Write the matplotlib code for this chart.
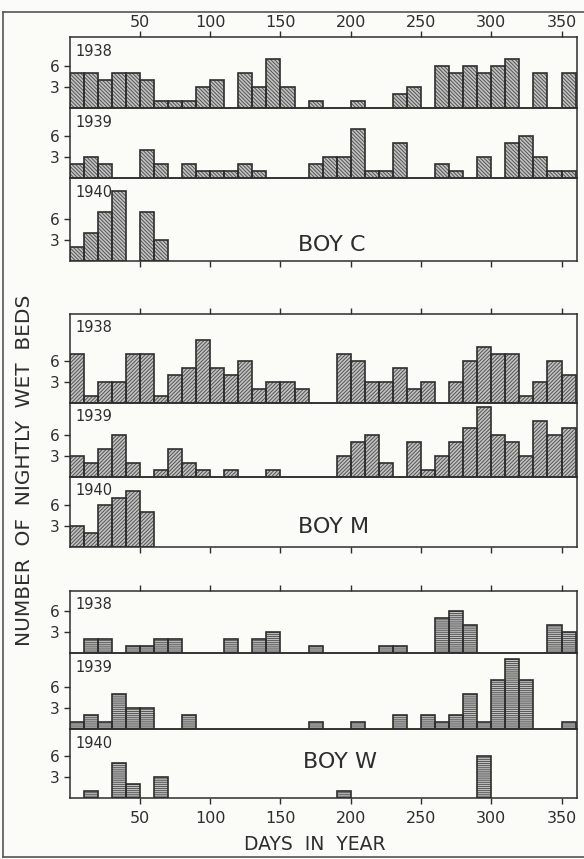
import numpy as np
import matplotlib
matplotlib.use("Agg")
import matplotlib.pyplot as plt
from matplotlib.lines import Line2D

# ten-day periods of the year (start day of each)
bin_start = np.arange(0, 360, 10)
years = ["1938", "1939", "1940"]
xticks = [50, 100, 150, 200, 250, 300, 350]
yticks = [3, 6]

# number of wet beds in each ten-day period
boy_c_1938 = [5, 5, 4, 5, 5, 4, 1, 1, 1, 3, 4, 0, 5, 3, 7, 3, 0, 1,
              0, 0, 1, 0, 0, 2, 3, 0, 6, 5, 6, 5, 6, 7, 0, 5, 0, 5]
boy_c_1939 = [2, 3, 2, 0, 0, 4, 2, 0, 2, 1, 1, 1, 2, 1, 0, 0, 0, 2,
              3, 3, 7, 1, 1, 5, 0, 0, 2, 1, 0, 3, 0, 5, 6, 3, 1, 1]
boy_c_1940 = [2, 4, 7, 10, 0, 7, 3, 0, 0, 0, 0, 0, 0, 0, 0, 0, 0, 0,
              0, 0, 0, 0, 0, 0, 0, 0, 0, 0, 0, 0, 0, 0, 0, 0, 0, 0]

boy_m_1938 = [7, 1, 3, 3, 7, 7, 1, 4, 5, 9, 5, 4, 6, 2, 3, 3, 2, 0,
              0, 7, 6, 3, 3, 5, 2, 3, 0, 3, 6, 8, 7, 7, 1, 3, 6, 4]
boy_m_1939 = [3, 2, 4, 6, 2, 0, 1, 4, 2, 1, 0, 1, 0, 0, 1, 0, 0, 0,
              0, 3, 5, 6, 2, 0, 5, 1, 3, 5, 7, 10, 6, 5, 3, 8, 6, 7]
boy_m_1940 = [3, 2, 6, 7, 8, 5, 0, 0, 0, 0, 0, 0, 0, 0, 0, 0, 0, 0,
              0, 0, 0, 0, 0, 0, 0, 0, 0, 0, 0, 0, 0, 0, 0, 0, 0, 0]

boy_w_1938 = [0, 2, 2, 0, 1, 1, 2, 2, 0, 0, 0, 2, 0, 2, 3, 0, 0, 1,
              0, 0, 0, 0, 1, 1, 0, 0, 5, 6, 4, 0, 0, 0, 0, 0, 4, 3]
boy_w_1939 = [1, 2, 1, 5, 3, 3, 0, 0, 2, 0, 0, 0, 0, 0, 0, 0, 0, 1,
              0, 0, 1, 0, 0, 2, 0, 2, 1, 2, 5, 1, 7, 10, 7, 0, 0, 1]
boy_w_1940 = [0, 1, 0, 5, 2, 0, 3, 0, 0, 0, 0, 0, 0, 0, 0, 0, 0, 0,
              0, 1, 0, 0, 0, 0, 0, 0, 0, 0, 0, 6, 0, 0, 0, 0, 0, 0]

W, H = 584, 859
PX_PER_UNIT = 7.0
ink = "#2e2e2e"
paper = "#fbfbf8"

plt.rcParams["hatch.linewidth"] = 0.7
plt.rcParams["font.family"] = ["DejaVu Sans"]

fig = plt.figure(figsize=(W / 100, H / 100), dpi=100)
fig.patch.set_facecolor(paper)

# name, rows, hatch, row edges in pixels (top, bottom), name position
panels = [
    ("BOY C", [boy_c_1938, boy_c_1939, boy_c_1940], "\\" * 9,
     [(37.3, 108.3), (108.3, 178.3), (178.3, 260.7)], (332, 245)),
    ("BOY M", [boy_m_1938, boy_m_1939, boy_m_1940], "/" * 9,
     [(314, 402.7), (402.7, 476.7), (476.7, 546.7)], (334, 527)),
    ("BOY W", [boy_w_1938, boy_w_1939, boy_w_1940], "-" * 8,
     [(590.7, 653), (653, 729), (729, 798.3)], (340, 762)),
]

left, right = 69.7, 577.0

for p, (name, rows, hatch, edges, name_pos) in enumerate(panels):
    for r, (vals, year, (top, bottom)) in enumerate(zip(rows, years, edges)):
        ax = fig.add_axes([left / W, 1 - bottom / H, (right - left) / W, (bottom - top) / H])
        ax.set_facecolor("none")
        vals = np.array(vals)
        keep = vals > 0
        ax.bar(bin_start[keep], vals[keep], width=10, align="edge",
               color="#c2c2c2", hatch=hatch, edgecolor="#555555", linewidth=0)
        ax.bar(bin_start[keep], vals[keep], width=10, align="edge",
               fill=False, edgecolor=ink, linewidth=1.2)
        ax.set_xlim(0, 361)
        ax.set_ylim(0, (bottom - top) / PX_PER_UNIT)
        for s in ax.spines.values():
            s.set_color(ink)
            s.set_linewidth(1.1)
        ax.set_yticks(yticks)
        ax.set_yticklabels([str(t) for t in yticks])
        ax.tick_params(axis="y", direction="out", length=4, width=1, color=ink,
                       labelsize=11, labelcolor=ink, pad=3)
        ax.set_xticks(xticks)
        if r == 0:
            ax.tick_params(axis="x", which="both", bottom=False, top=True,
                           labelbottom=False, labeltop=(p == 0), direction="out",
                           length=4, width=1, color=ink, labelsize=11.5,
                           labelcolor=ink, pad=1.5)
        elif r == 2:
            ax.tick_params(axis="x", which="both", bottom=True, top=False,
                           labelbottom=(p == 2), labeltop=False, direction="out",
                           length=4, width=1, color=ink, labelsize=11.5,
                           labelcolor=ink, pad=5)
        else:
            ax.tick_params(axis="x", bottom=False, top=False,
                           labelbottom=False, labeltop=False)
        ax.annotate(year, xy=(0, 1), xycoords="axes fraction",
                    xytext=(6, -14), textcoords="offset pixels",
                    ha="left", va="center", fontsize=10.5, color=ink)
    fig.text(name_pos[0] / W, 1 - name_pos[1] / H, name, ha="center",
             va="center", fontsize=16, color=ink)

fig.text(25 / W, 1 - 470 / H, "NUMBER  OF  NIGHTLY  WET  BEDS", rotation=90,
         ha="center", va="center", fontsize=14.5, color=ink)
fig.text(315 / W, 1 - 845 / H, "DAYS  IN  YEAR", ha="center", va="center",
         fontsize=13.5, color=ink)

# frame around the figure (left, top, bottom edges of the scan)
frame = [((3 / W, 3 / W), (1 - 12 / H, 1 - 857 / H)),
         ((3 / W, 1.0), (1 - 12 / H, 1 - 12 / H)),
         ((3 / W, 1.0), (1 - 857 / H, 1 - 857 / H))]
for xs, ys in frame:
    fig.add_artist(Line2D(xs, ys, transform=fig.transFigure, color="#555555", linewidth=1.2))

fig.savefig("out.png", dpi=100, facecolor=fig.get_facecolor())
